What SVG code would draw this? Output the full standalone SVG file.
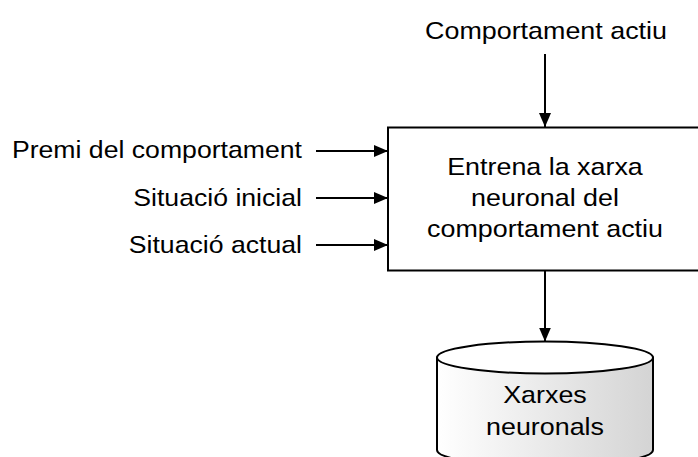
<svg xmlns="http://www.w3.org/2000/svg" width="698" height="457" viewBox="0 0 698 457">
  <style>
    text { font-family: "Liberation Sans", Arial, sans-serif; font-size: 24px; fill: #000; }
    .c { text-anchor: middle; }
    .r { text-anchor: end; }
    .edge { stroke: #000; stroke-width: 2; fill: none; marker-end: url(#arrow); }
    .shape { stroke: #000; stroke-width: 2; }
  </style>
  <defs>
    <marker id="arrow" viewBox="0 0 14 12" refX="14" refY="6" markerWidth="14" markerHeight="12" markerUnits="userSpaceOnUse" orient="auto">
      <path d="M0,0 L14,6 L0,12 Z" fill="#000"/>
    </marker>
    <linearGradient id="cylFill" x1="0" y1="0" x2="1" y2="0">
      <stop offset="0" stop-color="#ffffff"/>
      <stop offset="1" stop-color="#d4d4d4"/>
    </linearGradient>
  </defs>

  <rect width="698" height="457" fill="#fff"/>

  <!-- labels use a slightly wide face: each is stretched horizontally about its anchor -->
  <g id="process">
    <rect class="shape" x="388" y="127.5" width="320" height="143" fill="#fff"/>
    <text class="c" transform="translate(545,175) scale(1.12,1)">Entrena la xarxa</text>
    <text class="c" transform="translate(545,206) scale(1.12,1)">neuronal del</text>
    <text class="c" transform="translate(545,237) scale(1.12,1)">comportament actiu</text>
  </g>

  <g id="store">
    <path class="shape" fill="url(#cylFill)" d="M437,357.5 L437,450 A108,16 0 0 0 653,450 L653,357.5 Z"/>
    <ellipse class="shape" cx="545" cy="357.5" rx="108" ry="16" fill="#fff"/>
    <text class="c" transform="translate(545,403) scale(1.12,1)">Xarxes</text>
    <text class="c" transform="translate(545,435) scale(1.12,1)">neuronals</text>
  </g>

  <g id="input-behaviour">
    <text class="c" transform="translate(546,39) scale(1.12,1)">Comportament actiu</text>
  </g>
  <g id="input-reward">
    <text class="r" transform="translate(302,158) scale(1.11,1)">Premi del comportament</text>
  </g>
  <g id="input-initial">
    <text class="r" transform="translate(302,206) scale(1.11,1)">Situació inicial</text>
  </g>
  <g id="input-current">
    <text class="r" transform="translate(302,253) scale(1.11,1)">Situació actual</text>
  </g>

  <g id="connectors">
    <line class="edge" x1="545" y1="54" x2="545" y2="127"/>
    <line class="edge" x1="316" y1="151" x2="388" y2="151"/>
    <line class="edge" x1="316" y1="198" x2="388" y2="198"/>
    <line class="edge" x1="316" y1="245" x2="388" y2="245"/>
    <line class="edge" x1="545" y1="271" x2="545" y2="341.5"/>
  </g>
</svg>
